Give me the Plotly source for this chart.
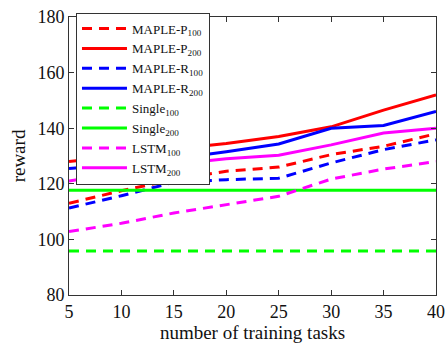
import plotly.graph_objects as go

tasks = [5, 10, 15, 20, 25, 30, 35, 40]
maple_p100 = [113.0, 117.5, 121.5, 124.5, 126.0, 130.5, 133.5, 138.0]
maple_p200 = [128.0, 130.0, 132.5, 134.5, 137.0, 140.5, 146.5, 152.0]
maple_r100 = [111.3, 115.7, 120.5, 121.5, 122.0, 127.5, 132.3, 135.8]
maple_r200 = [125.5, 127.0, 129.0, 131.5, 134.3, 140.0, 141.0, 146.0]
single100 = [95.8] * 8
single200 = [117.7] * 8
lstm100 = [102.8, 105.8, 109.5, 112.5, 115.5, 121.7, 125.3, 128.0]
lstm200 = [121.0, 124.0, 127.0, 129.0, 130.3, 134.0, 138.3, 140.0]

series = [
    ("MAPLE-P<sub>100</sub>", maple_p100, "#ff0000", "10px,7px"),
    ("MAPLE-P<sub>200</sub>", maple_p200, "#ff0000", "solid"),
    ("MAPLE-R<sub>100</sub>", maple_r100, "#0000ff", "10px,7px"),
    ("MAPLE-R<sub>200</sub>", maple_r200, "#0000ff", "solid"),
    ("Single<sub>100</sub>", single100, "#00ff00", "10px,7px"),
    ("Single<sub>200</sub>", single200, "#00ff00", "solid"),
    ("LSTM<sub>100</sub>", lstm100, "#ff00ff", "10px,7px"),
    ("LSTM<sub>200</sub>", lstm200, "#ff00ff", "solid"),
]

fig = go.Figure()
for name, vals, color, dash in series:
    fig.add_trace(go.Scatter(x=tasks, y=vals, mode="lines", name=name,
                             line=dict(color=color, width=3, dash=dash)))

axis_common = dict(showgrid=False, zeroline=False, showline=True, mirror="ticks",
                   linecolor="#333333", linewidth=1, ticks="inside", ticklen=5,
                   tickcolor="#333333", tickfont=dict(size=18, color="#111111"),
                   automargin=False, ticklabeloverflow="allow")

fig.update_layout(
    width=446, height=345,
    margin=dict(l=69, r=10, t=17, b=50),
    paper_bgcolor="white", plot_bgcolor="white",
    font=dict(family="Liberation Serif", color="#111111"),
    xaxis=dict(range=[5, 40], tickvals=[5, 10, 15, 20, 25, 30, 35, 40],
               title=dict(text="number of training tasks", font=dict(size=19), standoff=2),
               **axis_common),
    yaxis=dict(range=[80, 180], tickvals=[80, 100, 120, 140, 160, 180],
               title=dict(text="reward", font=dict(size=19), standoff=6),
               **axis_common),
    legend=dict(x=0.019, y=1.016, xanchor="left", yanchor="top",
                bgcolor="white", bordercolor="#333333", borderwidth=1,
                font=dict(size=13, color="#111111"), itemwidth=45,
                tracegroupgap=0, maxheight=340),
    showlegend=True,
)

# remove the browser's default 8px body margin so the figure fills the window exactly
fig.write_html("out.html", config={"displayModeBar": False},
               post_script="document.body.style.margin='0';")
